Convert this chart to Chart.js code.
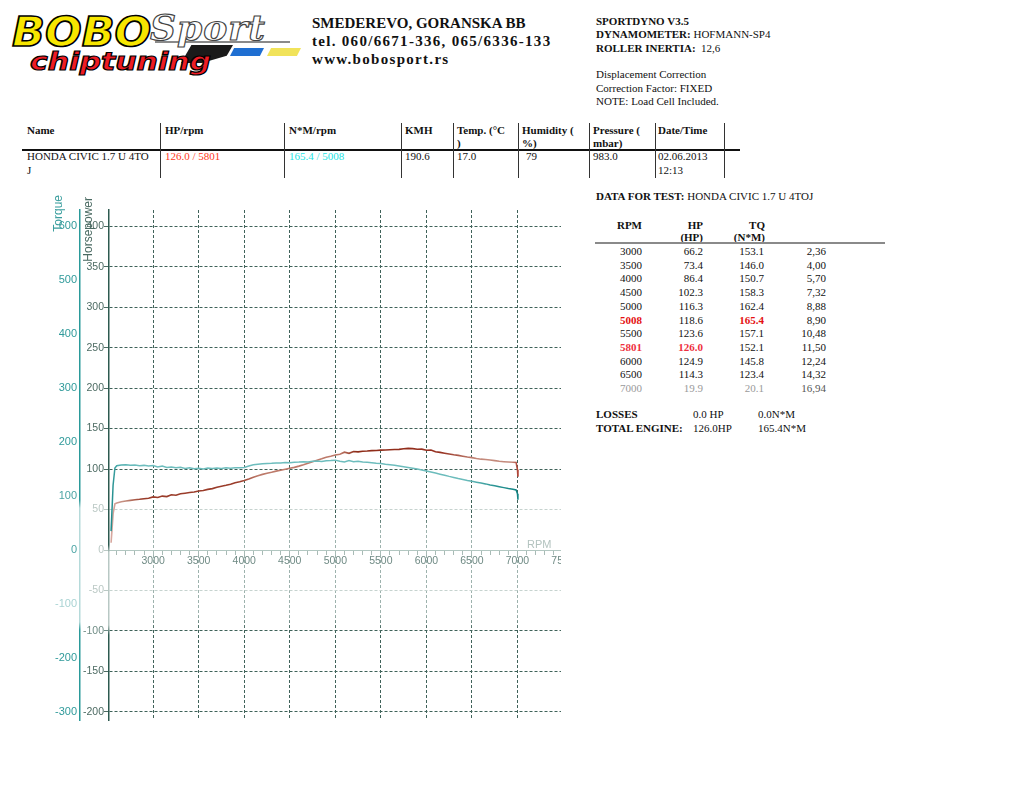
<!DOCTYPE html>
<html><head><meta charset="utf-8">
<script src="https://cdn.jsdelivr.net/npm/chart.js@4.4.1/dist/chart.umd.min.js"></script>
<style>
html,body{margin:0;padding:0;background:#fff;width:1024px;height:790px;overflow:hidden;position:relative}
.a{position:absolute;white-space:nowrap}
.s{font-family:"Liberation Serif","Times New Roman",serif;font-size:11px;line-height:13px;color:#111}
.b{font-weight:bold}
.hd{font-family:"Liberation Serif",serif;font-weight:bold;font-size:15px;line-height:17px;color:#111}
.vl{position:absolute;width:1.5px;background:#333;top:123px;height:55px}
.r{text-align:right;width:80px}
</style></head><body>

<!-- logo -->
<div class="a" style="left:181px;top:45px;width:52px;height:18px;background:#1a1a1a;clip-path:polygon(20% 0,100% 0,88% 60%,40% 100%,0 100%)"></div>
<div class="a" style="left:230px;top:48px;width:34px;height:8px;background:#1f6fd2;clip-path:polygon(12% 0,100% 0,88% 100%,0 100%)"></div>
<div class="a" style="left:267px;top:48px;width:34px;height:8px;background:#f1e35a;clip-path:polygon(12% 0,100% 0,88% 100%,0 100%)"></div>
<div class="a" style="left:155px;top:41px;width:135px;height:1.5px;background:#8a8a8a"></div>
<div class="a" style="left:150px;top:9px;font:italic bold 36px/36px 'DejaVu Serif';letter-spacing:1px;color:#fff;-webkit-text-stroke:1.2px #444">Sport</div>
<div class="a" style="left:12px;top:12px;font:italic bold 40px/40px 'DejaVu Sans';color:#f7e600;-webkit-text-stroke:1.6px #000;transform:scaleX(1.08);transform-origin:0 0">BOBO</div>
<div class="a" style="left:30px;top:49px;font:italic bold 25px/25px 'DejaVu Sans';color:#ee1c24;-webkit-text-stroke:1.2px #000;transform:scaleX(1.2);transform-origin:0 0">chiptuning</div>

<!-- address -->
<div class="a hd" style="left:312px;top:15px">SMEDEREVO, GORANSKA BB</div>
<div class="a hd" style="left:312px;top:33px;letter-spacing:1.3px">tel. 060/6671-336, 065/6336-133</div>
<div class="a hd" style="left:312px;top:51px;letter-spacing:1.3px">www.bobosport.rs</div>

<!-- right info -->
<div class="a s b" style="left:596px;top:15px">SPORTDYNO V3.5</div>
<div class="a s" style="left:596px;top:28px"><b>DYNAMOMETER:</b> HOFMANN-SP4</div>
<div class="a s" style="left:596px;top:41.5px"><b>ROLLER INERTIA:</b>&nbsp; 12,6</div>
<div class="a s" style="left:596px;top:68px">Displacement Correction</div>
<div class="a s" style="left:596px;top:81.5px">Correction Factor: FIXED</div>
<div class="a s" style="left:596px;top:95px">NOTE: Load Cell Included.</div>

<!-- summary table -->
<div class="a s b" style="left:27px;top:124px">Name</div>
<div class="a s b" style="left:165px;top:124px">HP/rpm</div>
<div class="a s b" style="left:289px;top:124px">N*M/rpm</div>
<div class="a s b" style="left:405px;top:124px">KMH</div>
<div class="a s b" style="left:457px;top:124px">Temp. (°C</div>
<div class="a s b" style="left:457px;top:137px">)</div>
<div class="a s b" style="left:522px;top:124px">Humidity (</div>
<div class="a s b" style="left:522px;top:137px">%)</div>
<div class="a s b" style="left:593px;top:124px">Pressure (</div>
<div class="a s b" style="left:593px;top:137px">mbar)</div>
<div class="a s b" style="left:658px;top:124px">Date/Time</div>
<div class="a" style="left:22px;top:149px;width:718px;height:1.5px;background:#111"></div>
<div class="a s" style="left:27px;top:150px">HONDA CIVIC 1.7 U 4TO</div>
<div class="a s" style="left:27px;top:163.5px">J</div>
<div class="a s" style="left:165px;top:150px;color:#ff3a1a">126.0 / 5801</div>
<div class="a s" style="left:289px;top:150px;color:#22e4e4">165.4 / 5008</div>
<div class="a s" style="left:405px;top:150px">190.6</div>
<div class="a s" style="left:457px;top:150px">17.0</div>
<div class="a s" style="left:526px;top:150px">79</div>
<div class="a s" style="left:593px;top:150px">983.0</div>
<div class="a s" style="left:658px;top:150px">02.06.2013</div>
<div class="a s" style="left:658px;top:163.5px">12:13</div>
<div class="vl" style="left:159.5px"></div>
<div class="vl" style="left:283.5px"></div>
<div class="vl" style="left:400.5px"></div>
<div class="vl" style="left:452.5px"></div>
<div class="vl" style="left:517.5px"></div>
<div class="vl" style="left:588.5px"></div>
<div class="vl" style="left:654.5px"></div>
<div class="vl" style="left:723.5px"></div>

<!-- right data table -->
<div class="a s" style="left:596px;top:190px"><b>DATA FOR TEST:</b> HONDA CIVIC 1.7 U 4TOJ</div>
<div class="a s b r" style="left:562px;top:219px">RPM</div>
<div class="a s b r" style="left:623px;top:219px">HP</div>
<div class="a s b r" style="left:623px;top:231px">(HP)</div>
<div class="a s b r" style="left:685px;top:219px">TQ</div>
<div class="a s b r" style="left:685px;top:231px">(N*M)</div>
<div class="a" style="left:595px;top:242px;width:290px;height:2px;background:#8a8a8a"></div>
<div id="rows"></div>
<div class="a s b" style="left:596px;top:408px">LOSSES</div>
<div class="a s" style="left:693px;top:408px">0.0 HP</div>
<div class="a s" style="left:758px;top:408px">0.0N*M</div>
<div class="a s b" style="left:596px;top:422px">TOTAL ENGINE:</div>
<div class="a s" style="left:693px;top:422px">126.0HP</div>
<div class="a s" style="left:758px;top:422px">165.4N*M</div>

<!-- chart -->
<div class="a" style="left:0;top:190px;width:561px;height:545px;overflow:hidden">
  <canvas id="c" width="600" height="545" style="width:600px;height:545px"></canvas>
</div>
<div class="a" style="left:52px;top:195px;writing-mode:vertical-rl;transform:rotate(180deg);font:12px/13px 'Liberation Sans',Arial,sans-serif;color:#3a9e9e">Torque</div>
<div class="a" style="left:82px;top:197px;writing-mode:vertical-rl;transform:rotate(180deg);font:12px/13px 'Liberation Sans',Arial,sans-serif;color:#4a6a62">Horsepower</div>
<div class="a" style="left:527px;top:538px;font:11px/13px 'Liberation Sans',Arial,sans-serif;color:#b3c3bf">RPM</div>

<script>
// ---- chart data ----
const rpm = [2538,2560,2580,
 2600,2650,2700,2750,2800,2850,2900,2950,3000,3050,
 3100,3150,3200,3250,3300,3350,3400,3450,3500,3550,
 3600,3650,3700,3750,3800,3850,3900,3950,4000,4050,
 4100,4150,4200,4250,4300,4350,4400,4450,4500,4550,
 4600,4650,4700,4750,4800,4850,4900,4950,5000,5050,
 5100,5150,5200,5250,5300,5350,5400,5450,5500,5550,
 5600,5650,5700,5750,5800,5850,5900,5950,6000,6050,
 6100,6150,6200,6250,6300,6350,6400,6450,6500,6550,
 6600,6650,6700,6750,6800,6850,6900,6950,
 6985,7000,7005];
const torqueNm = [35,120,152,
 156,157.5,157.8,157,157.4,156.2,156.8,155.5,156.5,153.8,
 155.6,153,154,152.4,153.2,151.2,152.3,150.5,151.4,150.2,
 151.8,150.9,151.9,151.2,152.2,151.7,152.4,152.2,153,155.5,
 158,159,159.6,160.3,160.6,161.4,161.2,162,161.7,162.6,
 162.9,163.5,163.2,164.4,164.8,163.9,165.3,165.8,166.5,164.6,
 163.2,165.6,163.5,164.6,163,162.4,161.8,160.9,160.2,158.8,
 157.9,156.9,155.7,154.4,153,151.6,150,148.3,146.5,144.6,
 142.5,140.5,138.6,136.4,134.5,132.3,130.6,128.8,127.2,125.6,
 124,122.5,120.4,118.9,117.2,115.6,114,112.6,
 111.2,104,93];
const powerHp = [9,45,57,
 58,59.5,60.6,61.3,62,62.6,63.4,64,65.6,64.9,
 66.6,66,68.2,67.6,69.5,70.2,71,71.6,72.8,73.6,
 74.9,75.8,77.4,78.8,79.9,81.3,83,84.2,85.8,87.8,
 90,91.8,93.4,94.8,96,97.4,98.6,99.7,100.9,102.1,
 103.6,105.3,107.2,109,110.8,112.6,114.6,115.9,117.4,118.2,
 120.8,119.4,121.6,121.2,122,122.2,122.8,123,123.4,123.6,
 123.9,124.1,124.3,125,125.5,125.2,124.4,124.6,123.3,123.6,
 121.4,120.6,119.6,118.6,117.6,116.9,115.8,114.8,114.1,113,
 112.2,111.7,111.1,110.4,109.6,109.1,108.7,108.4,
 108.2,99,90.5];

const hpTicks = [400,350,300,250,200,150,100,50,0,-50,-100,-150,-200];
const torqueTicks = [600,500,400,300,200,100,0,-100,-200,-300];
const rpmLabels = [3000,3500,4000,4500,5000,5500,6000,6500,7000,7500];

// ---- right-hand table ----
const tblRpm  = ['3000','3500','4000','4500','5000','5008','5500','5801','6000','6500','7000'];
const tblHp   = ['66.2','73.4','86.4','102.3','116.3','118.6','123.6','126.0','124.9','114.3','19.9'];
const tblTq   = ['153.1','146.0','150.7','158.3','162.4','165.4','157.1','152.1','145.8','123.4','20.1'];
const tblTime = ['2,36','4,00','5,70','7,32','8,88','8,90','10,48','11,50','12,24','14,32','16,94'];
const peakTqRow = '5008', peakHpRow = '5801';

(function(){
  const host = document.getElementById('rows');
  const rights = [642,703,764,826];
  tblRpm.forEach((r,i)=>{
    const vals=[tblRpm[i],tblHp[i],tblTq[i],tblTime[i]];
    vals.forEach((v,j)=>{
      const d=document.createElement('div');
      d.className='a s r';
      d.style.left=(rights[j]-80)+'px';
      d.style.top=(245+i*13.7)+'px';
      d.textContent=v;
      if(r===peakTqRow && (j===0||j===2)){d.style.color='#e41010';d.style.fontWeight='bold';}
      if(r===peakHpRow && (j===0||j===1)){d.style.color='#ee3040';d.style.fontWeight='bold';}
      if(i===tblRpm.length-1 && j<3){d.style.color='#9a9a9a';}
      if(i===tblRpm.length-1 && j===3){d.style.color='#555';}
      host.appendChild(d);
    });
  });
})();

// ---- chart ----
const canvas = document.getElementById('c');
const g2 = canvas.getContext('2d');
function hGrad(stops){const g=g2.createLinearGradient(0,0,600,0);stops.forEach(([x,c])=>g.addColorStop(x/600,c));return g;}
function vGrad(stops){const g=g2.createLinearGradient(0,0,0,545);stops.forEach(([y,c])=>g.addColorStop(y/545,c));return g;}
const tealLine = hGrad([[110,'#178585'],[118,'#4eaeae'],[135,'#6dbdbd'],[465,'#6cbcbc'],[495,'#2a9494'],[520,'#0f8282']]);
const brownLine = hGrad([[110,'#d9aaa2'],[126,'#c08878'],[142,'#9a3c2a'],[240,'#9a3c2a'],[258,'#bd7a6a'],[340,'#bd7a6a'],[356,'#8e2c18'],[440,'#963020'],[478,'#c48a7c'],[512,'#c48a7c'],[520,'#a8281a']]);
const hpAxisCol = vGrad([[0,'#2d5a50'],[355,'#2d5a50'],[362,'#b8c8c4'],[435,'#b8c8c4'],[445,'#2d5a50'],[545,'#2d5a50']]);
const tqAxisCol = vGrad([[0,'#2a9a9a'],[310,'#2a9a9a'],[318,'#b5dada'],[432,'#b5dada'],[440,'#2a9a9a'],[545,'#2a9a9a']]);
const xGridCol = vGrad([[0,'#3f6259'],[325,'#3f6259'],[340,'#9db2ad'],[425,'#9db2ad'],[440,'#3f6259'],[545,'#3f6259']]);
const rpmTicks = []; for(let v=2600; v<=7500; v+=100) rpmTicks.push(v);

const hpLabelColor = v => (v===50||v===0||v===-50) ? '#bac8c4' : (v===-100 ? '#6f8c85' : '#4d6b63');
const tqLabelColor = v => v===-100 ? '#a9d3d3' : (v===0||v===100 ? '#4ba4a4' : '#2f9a9a');
const sans = {family:"'Liberation Sans', Arial, sans-serif"};

new Chart(canvas, {
  type:'line',
  data:{datasets:[
    {label:'Torque', data: rpm.map((r,i)=>({x:r,y:torqueNm[i]})), yAxisID:'yT', xAxisID:'x',
     borderColor: tealLine, borderWidth:1.5, pointRadius:0, tension:0, fill:false},
    {label:'Horsepower', data: rpm.map((r,i)=>({x:r,y:powerHp[i]})), yAxisID:'yH', xAxisID:'x',
     borderColor: brownLine, borderWidth:1.6, pointRadius:0, tension:0, fill:false}
  ]},
  options:{
    responsive:false, animation:false, devicePixelRatio:1, events:[],
    layout:{padding:{left:30,right:37,top:20,bottom:15}},
    plugins:{legend:{display:false}, tooltip:{enabled:false}, title:{display:false}},
    scales:{
      x:{type:'linear', position:{yH:0}, min:2515, max:7500,
        afterBuildTicks: s => { s.ticks = rpmTicks.map(v=>({value:v})); },
        ticks:{autoSkip:false, maxRotation:0, minRotation:0, padding:1, color:'#6f8a84',
               font:{...sans, size:10.5}, callback: v => rpmLabels.includes(v) ? String(v) : ''},
        grid:{color: ctx => (ctx.tick && rpmLabels.includes(ctx.tick.value)) ? xGridCol : 'rgba(0,0,0,0)',
              lineWidth:1, drawTicks:true, tickLength:4, tickColor:'#a9bbb6', tickWidth:1, tickBorderDash:[]},
        border:{display:true, color:'#b2c7c1', width:1, dash:[3,2]}
      },
      yT:{type:'linear', position:'left', weight:2, min:-315, max:630,
        afterBuildTicks: s => { s.ticks = torqueTicks.map(v=>({value:v})); },
        afterFit: s => { s.width = 50; },
        ticks:{padding:3, color: ctx => tqLabelColor(ctx.tick.value), font:{...sans, size:11}},
        grid:{drawOnChartArea:false, drawTicks:false},
        border:{display:true, color:tqAxisCol, width:1.5}
      },
      yH:{type:'linear', position:'left', weight:1, min:-210, max:420,
        afterBuildTicks: s => { s.ticks = hpTicks.map(v=>({value:v})); },
        afterFit: s => { s.width = 29; },
        ticks:{padding:0, color: ctx => hpLabelColor(ctx.tick.value), font:{...sans, size:10.5}},
        grid:{color: ctx => { const v = ctx.tick ? ctx.tick.value : null; if (v===0) return 'rgba(0,0,0,0)'; return (v===50||v===-50) ? '#c6d3cf' : '#3f6259'; },
              lineWidth:1, drawTicks:true, tickLength:5, tickColor: ctx => hpLabelColor(ctx.tick ? ctx.tick.value : 1), tickBorderDash:[]},
        border:{display:true, color:hpAxisCol, width:1.5, dash:[3,2]}
      }
    }
  }
});
</script>
</body></html>
